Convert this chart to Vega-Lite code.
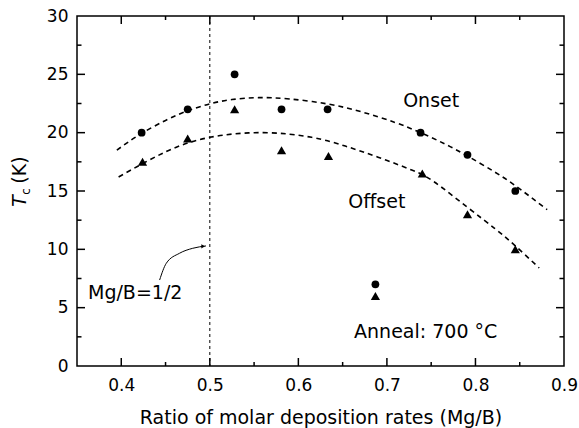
{
  "$schema": "https://vega.github.io/schema/vega-lite/v6.json",
  "width": 487,
  "height": 350,
  "autosize": {"type": "none"},
  "padding": {"left": 77, "top": 16, "right": 15, "bottom": 62},
  "background": "white",
  "config": {
    "view": {"stroke": "black", "strokeWidth": 1.5},
    "font": "DejaVu Sans",
    "axis": {
      "grid": false,
      "domain": false,
      "ticks": false,
      "labelFlush": false,
      "labelColor": "black",
      "labelFont": "DejaVu Sans",
      "labelFontSize": 17,
      "titleFont": "DejaVu Sans",
      "titleFontSize": 19,
      "titleFontWeight": "normal",
      "titleColor": "black"
    }
  },
  "datasets": {
    "points": [
      {"ratio": 0.423, "tc": 20, "series": "Onset"},
      {"ratio": 0.475, "tc": 22, "series": "Onset"},
      {"ratio": 0.528, "tc": 25, "series": "Onset"},
      {"ratio": 0.581, "tc": 22, "series": "Onset"},
      {"ratio": 0.633, "tc": 22, "series": "Onset"},
      {"ratio": 0.687, "tc": 7, "series": "Onset"},
      {"ratio": 0.738, "tc": 20, "series": "Onset"},
      {"ratio": 0.791, "tc": 18.1, "series": "Onset"},
      {"ratio": 0.845, "tc": 15, "series": "Onset"},
      {"ratio": 0.424, "tc": 17.5, "series": "Offset"},
      {"ratio": 0.475, "tc": 19.5, "series": "Offset"},
      {"ratio": 0.528, "tc": 22, "series": "Offset"},
      {"ratio": 0.581, "tc": 18.5, "series": "Offset"},
      {"ratio": 0.634, "tc": 18, "series": "Offset"},
      {"ratio": 0.687, "tc": 6, "series": "Offset"},
      {"ratio": 0.740, "tc": 16.5, "series": "Offset"},
      {"ratio": 0.791, "tc": 13, "series": "Offset"},
      {"ratio": 0.845, "tc": 10, "series": "Offset"}
    ],
    "curves": [
      {"ratio": 0.395, "tc": 18.5, "series": "Onset"},
      {"ratio": 0.42, "tc": 19.8, "series": "Onset"},
      {"ratio": 0.45, "tc": 21.05, "series": "Onset"},
      {"ratio": 0.475, "tc": 21.87, "series": "Onset"},
      {"ratio": 0.5, "tc": 22.47, "series": "Onset"},
      {"ratio": 0.525, "tc": 22.84, "series": "Onset"},
      {"ratio": 0.555, "tc": 23.0, "series": "Onset"},
      {"ratio": 0.59, "tc": 22.89, "series": "Onset"},
      {"ratio": 0.633, "tc": 22.46, "series": "Onset"},
      {"ratio": 0.672, "tc": 21.77, "series": "Onset"},
      {"ratio": 0.709, "tc": 20.88, "series": "Onset"},
      {"ratio": 0.738, "tc": 20.0, "series": "Onset"},
      {"ratio": 0.765, "tc": 19.05, "series": "Onset"},
      {"ratio": 0.791, "tc": 18.0, "series": "Onset"},
      {"ratio": 0.82, "tc": 16.71, "series": "Onset"},
      {"ratio": 0.845, "tc": 15.46, "series": "Onset"},
      {"ratio": 0.881, "tc": 13.4, "series": "Onset"},
      {"ratio": 0.397, "tc": 16.2, "series": "Offset"},
      {"ratio": 0.45, "tc": 18.35, "series": "Offset"},
      {"ratio": 0.5, "tc": 19.6, "series": "Offset"},
      {"ratio": 0.56, "tc": 20.0, "series": "Offset"},
      {"ratio": 0.615, "tc": 19.6, "series": "Offset"},
      {"ratio": 0.653, "tc": 18.85, "series": "Offset"},
      {"ratio": 0.69, "tc": 17.9, "series": "Offset"},
      {"ratio": 0.728, "tc": 16.8, "series": "Offset"},
      {"ratio": 0.754, "tc": 15.75, "series": "Offset"},
      {"ratio": 0.791, "tc": 13.6, "series": "Offset"},
      {"ratio": 0.8216, "tc": 11.8, "series": "Offset"},
      {"ratio": 0.845, "tc": 10.3, "series": "Offset"},
      {"ratio": 0.872, "tc": 8.4, "series": "Offset"}
    ],
    "arrow": [
      {"ratio": 0.4433, "tc": 7.37, "order": 1},
      {"ratio": 0.4508, "tc": 8.8, "order": 2},
      {"ratio": 0.4657, "tc": 9.66, "order": 3},
      {"ratio": 0.4807, "tc": 10.09, "order": 4},
      {"ratio": 0.4957, "tc": 10.29, "order": 5}
    ],
    "notes": [
      {"ratio": 0.750, "tc": 22.17, "label": "Onset"},
      {"ratio": 0.6886, "tc": 13.52, "label": "Offset"},
      {"ratio": 0.4157, "tc": 5.71, "label": "Mg/B=1/2"},
      {"ratio": 0.7438, "tc": 2.37, "label": "Anneal: 700 °C"}
    ],
    "xticks": [
      {"v": 0.4, "kind": "major"}, {"v": 0.5, "kind": "major"}, {"v": 0.6, "kind": "major"}, {"v": 0.7, "kind": "major"}, {"v": 0.8, "kind": "major"},
      {"v": 0.45, "kind": "minor"}, {"v": 0.55, "kind": "minor"}, {"v": 0.65, "kind": "minor"}, {"v": 0.75, "kind": "minor"}, {"v": 0.85, "kind": "minor"}
    ],
    "yticks": [
      {"v": 5, "kind": "major"}, {"v": 10, "kind": "major"}, {"v": 15, "kind": "major"}, {"v": 20, "kind": "major"}, {"v": 25, "kind": "major"},
      {"v": 2.5, "kind": "minor"}, {"v": 7.5, "kind": "minor"}, {"v": 12.5, "kind": "minor"}, {"v": 17.5, "kind": "minor"}, {"v": 22.5, "kind": "minor"}, {"v": 27.5, "kind": "minor"}
    ]
  },
  "layer": [
    {
      "data": {"name": "points"},
      "transform": [{"filter": "datum.series === 'Onset'"}],
      "mark": {"type": "point", "shape": "circle", "filled": true, "color": "black", "size": 60, "opacity": 1},
      "encoding": {
        "x": {"field": "ratio", "type": "quantitative",
          "scale": {"domain": [0.35, 0.9], "nice": false, "zero": false},
          "axis": {"orient": "bottom", "values": [0.4, 0.5, 0.6, 0.7, 0.8, 0.9], "format": ".1f", "labelPadding": 11, "title": "Ratio of molar deposition rates (Mg/B)", "titlePadding": 15}},
        "y": {"field": "tc", "type": "quantitative",
          "scale": {"domain": [0, 30], "nice": false, "zero": false},
          "axis": {"orient": "left", "values": [0, 5, 10, 15, 20, 25, 30], "labelPadding": 9, "title": null}}
      }
    },
    {
      "data": {"name": "points"},
      "transform": [{"filter": "datum.series === 'Offset'"}],
      "mark": {"type": "point", "shape": "triangle-up", "filled": true, "color": "black", "size": 85, "opacity": 1},
      "encoding": {
        "x": {"field": "ratio", "type": "quantitative"},
        "y": {"field": "tc", "type": "quantitative"}
      }
    },
    {
      "data": {"name": "curves"},
      "mark": {"type": "line", "color": "black", "strokeWidth": 1.6, "strokeDash": [5, 4], "interpolate": "natural"},
      "encoding": {
        "x": {"field": "ratio", "type": "quantitative"},
        "y": {"field": "tc", "type": "quantitative"},
        "detail": {"field": "series"}
      }
    },
    {
      "data": {"name": "notes"},
      "mark": {"type": "text", "font": "DejaVu Sans", "fontSize": 19, "color": "black", "align": "center", "baseline": "alphabetic"},
      "encoding": {
        "x": {"field": "ratio", "type": "quantitative"},
        "y": {"field": "tc", "type": "quantitative"},
        "text": {"field": "label"}
      }
    },
    {
      "data": {"values": [{"ratio": 0.5}]},
      "mark": {"type": "rule", "color": "black", "strokeWidth": 1, "strokeDash": [3, 3]},
      "encoding": {
        "x": {"field": "ratio", "type": "quantitative"}
      }
    },
    {
      "data": {"name": "arrow"},
      "mark": {"type": "line", "color": "black", "strokeWidth": 1, "interpolate": "monotone"},
      "encoding": {
        "x": {"field": "ratio", "type": "quantitative"},
        "y": {"field": "tc", "type": "quantitative"},
        "order": {"field": "order"}
      }
    },
    {
      "data": {"values": [{"ratio": 0.4925, "tc": 10.26}]},
      "mark": {"type": "point", "shape": "triangle-right", "filled": true, "color": "black", "size": 18, "opacity": 1},
      "encoding": {
        "x": {"field": "ratio", "type": "quantitative"},
        "y": {"field": "tc", "type": "quantitative"}
      }
    },
    {
      "data": {"name": "xticks"},
      "transform": [{"filter": "datum.kind === 'major'"}],
      "mark": {"type": "tick", "orient": "vertical", "size": 16, "thickness": 1.5, "color": "black", "opacity": 1, "clip": true},
      "encoding": {
        "x": {"field": "v", "type": "quantitative"},
        "y": {"datum": 0, "type": "quantitative"}
      }
    },
    {
      "data": {"name": "xticks"},
      "transform": [{"filter": "datum.kind === 'major'"}],
      "mark": {"type": "tick", "orient": "vertical", "size": 16, "thickness": 1.5, "color": "black", "opacity": 1, "clip": true},
      "encoding": {
        "x": {"field": "v", "type": "quantitative"},
        "y": {"datum": 30, "type": "quantitative"}
      }
    },
    {
      "data": {"name": "xticks"},
      "transform": [{"filter": "datum.kind === 'minor'"}],
      "mark": {"type": "tick", "orient": "vertical", "size": 8, "thickness": 1.5, "color": "black", "opacity": 1, "clip": true},
      "encoding": {
        "x": {"field": "v", "type": "quantitative"},
        "y": {"datum": 0, "type": "quantitative"}
      }
    },
    {
      "data": {"name": "xticks"},
      "transform": [{"filter": "datum.kind === 'minor'"}],
      "mark": {"type": "tick", "orient": "vertical", "size": 8, "thickness": 1.5, "color": "black", "opacity": 1, "clip": true},
      "encoding": {
        "x": {"field": "v", "type": "quantitative"},
        "y": {"datum": 30, "type": "quantitative"}
      }
    },
    {
      "data": {"name": "yticks"},
      "transform": [{"filter": "datum.kind === 'major'"}],
      "mark": {"type": "tick", "orient": "horizontal", "size": 16, "thickness": 1.5, "color": "black", "opacity": 1, "clip": true},
      "encoding": {
        "y": {"field": "v", "type": "quantitative"},
        "x": {"datum": 0.35, "type": "quantitative"}
      }
    },
    {
      "data": {"name": "yticks"},
      "transform": [{"filter": "datum.kind === 'major'"}],
      "mark": {"type": "tick", "orient": "horizontal", "size": 16, "thickness": 1.5, "color": "black", "opacity": 1, "clip": true},
      "encoding": {
        "y": {"field": "v", "type": "quantitative"},
        "x": {"datum": 0.9, "type": "quantitative"}
      }
    },
    {
      "data": {"name": "yticks"},
      "transform": [{"filter": "datum.kind === 'minor'"}],
      "mark": {"type": "tick", "orient": "horizontal", "size": 9, "thickness": 1.5, "color": "black", "opacity": 1, "clip": true},
      "encoding": {
        "y": {"field": "v", "type": "quantitative"},
        "x": {"datum": 0.35, "type": "quantitative"}
      }
    },
    {
      "data": {"name": "yticks"},
      "transform": [{"filter": "datum.kind === 'minor'"}],
      "mark": {"type": "tick", "orient": "horizontal", "size": 9, "thickness": 1.5, "color": "black", "opacity": 1, "clip": true},
      "encoding": {
        "y": {"field": "v", "type": "quantitative"},
        "x": {"datum": 0.9, "type": "quantitative"}
      }
    },
    {
      "data": {"values": [{"ratio": 0.2927, "tc": 14.14, "label": "T"}]},
      "mark": {"type": "text", "font": "DejaVu Sans", "fontSize": 19, "fontStyle": "italic", "color": "black", "align": "center", "baseline": "alphabetic", "angle": 270},
      "encoding": {
        "x": {"field": "ratio", "type": "quantitative"},
        "y": {"field": "tc", "type": "quantitative"},
        "text": {"field": "label"}
      }
    },
    {
      "data": {"values": [{"ratio": 0.2965, "tc": 14.96, "label": "c"}]},
      "mark": {"type": "text", "font": "DejaVu Sans", "fontSize": 12, "color": "black", "align": "center", "baseline": "alphabetic", "angle": 270},
      "encoding": {
        "x": {"field": "ratio", "type": "quantitative"},
        "y": {"field": "tc", "type": "quantitative"},
        "text": {"field": "label"}
      }
    },
    {
      "data": {"values": [{"ratio": 0.2927, "tc": 16.8, "label": "(K)"}]},
      "mark": {"type": "text", "font": "DejaVu Sans", "fontSize": 19, "color": "black", "align": "center", "baseline": "alphabetic", "angle": 270},
      "encoding": {
        "x": {"field": "ratio", "type": "quantitative"},
        "y": {"field": "tc", "type": "quantitative"},
        "text": {"field": "label"}
      }
    }
  ]
}
